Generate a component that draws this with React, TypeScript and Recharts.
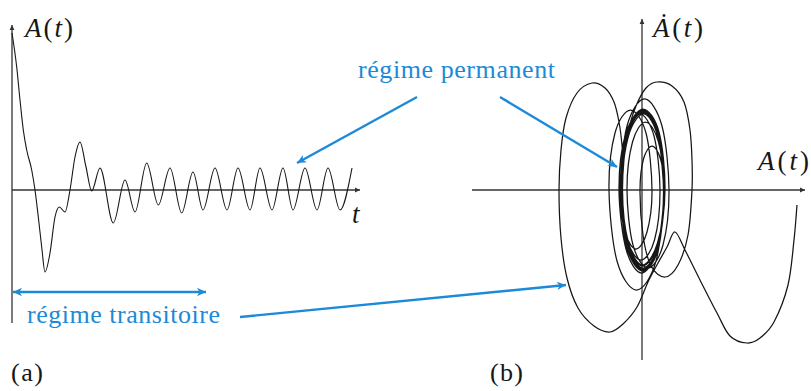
import React from 'react'
import { LineChart, Line, XAxis, YAxis, ReferenceLine } from 'recharts'

// (a) signal A(t) (arbitrary units)
const TIME_T = [
  0, 0.47, 0.8, 1.13, 1.47, 1.97, 2.3, 2.63, 2.97, 3.3, 3.8, 4.3, 4.73, 5.3,
  5.8, 6.3, 6.8, 7.4, 7.97, 8.8, 10.13, 11.3, 12.3, 13.47, 14.63, 15.8, 16.97,
  18.1, 19.1, 20.3, 21.5, 22.6, 23.8, 24.8, 26.0, 27.1, 28.1, 29.3, 30.5, 31.6,
  32.8, 34.0,
]
const TIME_A = [
  15.7, 12.3, 9.0, 6.0, 4.0, 2.0, 0, -2.7, -5.7, -8.2, -6.3, -2.7, -1.7, -2.2,
  0, 3.3, 4.8, 2.3, -0.1, 2.2, -3.3, 1.0, -2.2, 2.7, -1.5, 2.2, -2.3,
  1.8, -2.0, 2.2, -2.0, 2.2, -2.0, 2.2, -2.0, 2.2, -2.0, 2.2, -2.0, 2.2,
  -2.0, 2.2,
]

// (b) phase portrait, A(t) horizontally and dA/dt vertically, one line per stretch
const PHASE_A = [
  15.5, 15.2, 14.6, 13.2, 11.8, 10.5, 8.8, 7.5, 5.8, 4.3, 3.3, 2.5, 1.6, 0.6, -0.5, -1.9, -3.2, -4.8, -6.4, -7.5, -8.1, -8.3,
  -8.1, -7.6, -6.5, -5.0, -3.7, -2.8, -2.3, -2.0, -1.9, -1.7, -1.3, -0.6, 0.4, 1.5, 3.0, 4.2, 4.8, 5.0, 5.0,
  4.6, 3.6, 2.3, 0.9, 0.1, -0.2,
  0.15, 1.0, 1.85, 2.2,
  1.4, -0.55, -2.5, -3.3,
  -2.7, -1.15, 0.4, 1.0,
  0.5, -0.6, -1.7, -2.2,
  -1.5, 0.25, 2.0, 2.7,
  2.1, 0.6, -0.9, -1.5,
  -0.95, 0.35, 1.65, 2.2,
  1.5, -0.05, -1.6, -2.3,
  -1.7, -0.25, 1.2, 1.8,
  1.25, -0.1, -1.45, -2.0,
  -1.5, 0.1, 1.65, 2.3,
  1.6, 0.05, -1.45, -2.05,
  -1.35, 0.15, 1.55, 2.15,
  1.65, 0.1, -1.5, -2.1,
  -1.45, 0.1, 1.7, 2.3,
  1.55, 0.05, -1.35, -1.95,
  -1.4, 0.1, 1.6, 2.2,
  1.6, 0.1, -1.45, -2.05,
  -1.5, 0.05, 1.6, 2.2,
  1.65, 0.1, -1.4, -2.0,
  -1.4, 0.15, 1.65, 2.25,
  1.6, 0.1, -1.45, -2.0,
  -1.4, 0.1, 1.6, 2.2,
]
const PHASE_V = [
  -1.5, -5.0, -9.5, -13.2, -14.8, -15.3, -14.6, -12.3, -9.0, -6.0, -4.2, -5.7, -7.3, -9.2, -11.7, -13.4, -14.2, -13.6, -11.8, -8.8, -4.8, 0,
  4.0, 7.2, 9.7, 10.7, 10.2, 8.8, 6.8, 4.5, 2.5, 4.0, 6.2, 8.4, 10.2, 10.8, 10.4, 8.8, 6.0, 3.0, 0,
  -4.5, -7.5, -8.7, -7.6, -4.5, 0,
  3.1, 4.4, 3.1, 0,
  -7.1, -10.0, -7.1, 0,
  5.7, 8.0, 5.7, 0,
  -4.2, -5.9, -4.2, 0,
  6.4, 9.1, 6.4, 0,
  -5.5, -7.8, -5.5, 0,
  4.8, 6.8, 4.8, 0,
  -5.9, -8.3, -5.9, 0,
  5.4, 7.6, 5.4, 0,
  -5.0, -7.0, -5.0, 0,
  5.7, 8.0, 5.7, 0,
  -5.4, -7.6, -5.4, 0,
  5.4, 7.6, 5.4, 0,
  -5.8, -8.1, -5.8, 0,
  5.8, 8.1, 5.8, 0,
  -5.3, -7.5, -5.3, 0,
  5.6, 7.9, 5.6, 0,
  -5.7, -8.0, -5.7, 0,
  5.5, 7.7, 5.5, 0,
  -5.5, -7.8, -5.5, 0,
  5.7, 8.0, 5.7, 0,
  -5.6, -7.9, -5.6, 0,
  5.5, 7.8, 5.5, 0,
]

const W = 811
const H = 391
const INK = '#161616'
const AXIS = '#333'
const BLUE = '#1c8ad8'
const SERIF = '"Liberation Serif", "DejaVu Serif", "Times New Roman", serif'

const timeData = TIME_T.map((t, i) => ({ t, a: TIME_A[i] }))
const phaseData = PHASE_A.map((a, i) => ({ a, v: PHASE_V[i] }))

// local Catmull-Rom curve so the phase loops stay smooth without spline ringing
function catmullRom(context: any) {
  let pts: number[][] = []
  return {
    areaStart() {},
    areaEnd() {},
    lineStart() {
      pts = []
    },
    lineEnd() {
      if (!pts.length) return
      context.moveTo(pts[0][0], pts[0][1])
      for (let i = 0; i < pts.length - 1; i++) {
        const p0 = pts[i - 1] || pts[i]
        const p1 = pts[i]
        const p2 = pts[i + 1]
        const p3 = pts[i + 2] || p2
        context.bezierCurveTo(
          p1[0] + (p2[0] - p0[0]) / 6,
          p1[1] + (p2[1] - p0[1]) / 6,
          p2[0] - (p3[0] - p1[0]) / 6,
          p2[1] - (p3[1] - p1[1]) / 6,
          p2[0],
          p2[1],
        )
      }
    },
    point(x: number, y: number) {
      pts.push([+x, +y])
    },
  }
}

// reference line drawn as an axis with a small arrow tip (right or up)
function axisShape(props: any) {
  const { x1, y1, x2, y2 } = props
  const horiz = Math.abs(y1 - y2) < 0.5
  const sx = horiz ? Math.min(x1, x2) : x1
  const ex = horiz ? Math.max(x1, x2) : x1
  const sy = horiz ? y1 : Math.max(y1, y2)
  const ey = horiz ? y1 : Math.min(y1, y2)
  const tip = horiz
    ? `M${ex},${ey} L${ex - 5},${ey - 2.4} L${ex - 5},${ey + 2.4} Z`
    : `M${ex},${ey} L${ex - 2.4},${ey + 5} L${ex + 2.4},${ey + 5} Z`
  return (
    <g>
      <line x1={sx} y1={sy} x2={ex} y2={ey} stroke={AXIS} strokeWidth={1.3} />
      <path d={tip} fill={AXIS} />
    </g>
  )
}

function head(x1: number, y1: number, x2: number, y2: number) {
  const d = Math.hypot(x2 - x1, y2 - y1)
  const ux = (x2 - x1) / d
  const uy = (y2 - y1) / d
  const L = 9
  const hw = 4.2
  const bx = x2 - ux * L
  const by = y2 - uy * L
  return `M${x2},${y2} L${bx - uy * hw},${by + ux * hw} L${bx + ux * 2.5},${by + uy * 2.5} L${bx + uy * hw},${by - ux * hw} Z`
}

function Arrow({ x1, y1, x2, y2, both = false }: { x1: number; y1: number; x2: number; y2: number; both?: boolean }) {
  return (
    <g>
      <line x1={x1} y1={y1} x2={x2} y2={y2} stroke={BLUE} strokeWidth={2.4} />
      <path d={head(x1, y1, x2, y2)} fill={BLUE} />
      {both && <path d={head(x2, y2, x1, y1)} fill={BLUE} />}
    </g>
  )
}

const txt = { fontFamily: SERIF }

function MathLabel({ x, y, dot = false, len }: { x: number; y: number; dot?: boolean; len: number }) {
  return (
    <text x={x} y={y} fontSize={27} style={txt} fill={INK} textLength={len}>
      <tspan fontStyle="italic">{dot ? '\u0226' : 'A'}</tspan>
      <tspan>(</tspan>
      <tspan fontStyle="italic">t</tspan>
      <tspan>)</tspan>
    </text>
  )
}

export default function App() {
  return (
    <div style={{ position: 'absolute', left: 0, top: 0, width: W, height: H, background: '#fff' }}>
      <div style={{ position: 'absolute', left: 0, top: 0 }}>
        <LineChart width={W} height={H} data={timeData} margin={{ top: 25, right: 451, bottom: 68, left: 12 }}>
          <XAxis type="number" dataKey="t" domain={[0, 34.8]} hide />
          <YAxis type="number" domain={[-13.3, 16.5]} hide />
          <ReferenceLine y={0} shape={axisShape} />
          <ReferenceLine x={0} shape={axisShape} />
          <Line dataKey="a" type="monotoneX" stroke={INK} strokeWidth={1.1} dot={false} isAnimationActive={false} />
        </LineChart>
      </div>
      <div style={{ position: 'absolute', left: 0, top: 0 }}>
        <LineChart width={W} height={H} data={phaseData} margin={{ top: 19, right: 6, bottom: 31, left: 472 }}>
          <XAxis type="number" dataKey="a" domain={[-17, 16.3]} hide />
          <YAxis type="number" domain={[-17, 17.1]} hide />
          <ReferenceLine y={0} shape={axisShape} />
          <ReferenceLine x={0} shape={axisShape} />
          <Line dataKey="v" type={catmullRom as any} stroke={INK} strokeWidth={1.25} dot={false} isAnimationActive={false} />
        </LineChart>
      </div>
      <svg width={W} height={H} style={{ position: 'absolute', left: 0, top: 0 }}>
        <MathLabel x={25} y={37} len={48} />
        <text x={352} y={223} fontSize={27} style={txt} fontStyle="italic" fill={INK}>t</text>
        <MathLabel x={653} y={37} dot len={50} />
        <MathLabel x={758} y={170} len={51} />

        <text x={358} y={78} fontSize={26} style={txt} fill={BLUE} textLength={197}>régime permanent</text>
        <text x={27} y={323} fontSize={26} style={txt} fill={BLUE} textLength={193}>régime transitoire</text>

        <Arrow x1={417} y1={97} x2={297} y2={163} />
        <Arrow x1={500} y1={97} x2={617} y2={167} />
        <Arrow x1={240} y1={317} x2={566} y2={285} />
        <Arrow x1={13} y1={292} x2={206} y2={292} both />

        <text x={11} y={381} fontSize={26} style={txt} fill={INK} textLength={32}>(a)</text>
        <text x={490} y={381} fontSize={26} style={txt} fill={INK} textLength={33}>(b)</text>
      </svg>
    </div>
  )
}
